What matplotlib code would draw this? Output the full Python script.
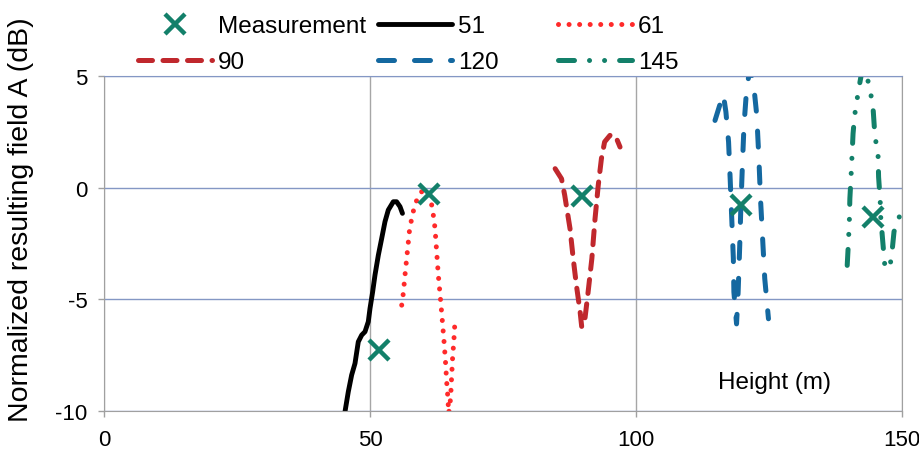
import matplotlib
matplotlib.use("Agg")
import matplotlib.pyplot as plt

plt.rcParams['font.family'] = ['Liberation Sans', 'DejaVu Sans']
plt.rcParams['axes.unicode_minus'] = False

# measured points
meas_h = [51.6, 61.1, 89.9, 119.7, 144.5]
meas_a = [-7.28, -0.27, -0.37, -0.79, -1.31]

# simulated curves, one per antenna height
h51 = [45.3, 45.92, 46.55, 47.18, 47.8, 48.44, 49.06, 49.68, 50.0, 50.5, 50.94,
       51.57, 52.2, 52.82, 53.44, 54.38, 55.0, 55.64, 56.1]
a51 = [-10.03, -9.14, -8.39, -7.87, -6.9, -6.6, -6.45, -6.0, -5.41, -4.66, -3.91,
       -3.02, -2.27, -1.52, -1.0, -0.63, -0.63, -0.85, -1.15]

h61 = [55.96, 56.26, 56.58, 57.02, 57.4, 57.84, 58.27, 58.9, 59.72, 60.66, 61.28,
       61.78, 62.22, 62.53, 62.84, 63.35, 63.66, 63.97, 64.23, 64.41, 64.6, 64.8,
       65.15, 65.33, 65.52, 65.79, 65.98]
a61 = [-5.26, -4.73, -3.91, -2.87, -1.97, -1.37, -0.93, -0.48, -0.18, -0.11, -0.4,
       -1.0, -1.82, -2.87, -3.91, -5.26, -6.15, -7.05, -7.94, -8.69, -9.29, -10.1,
       -9.44, -8.54, -7.64, -6.75, -5.93]

h90 = [84.8, 86.0, 86.6, 87.6, 88.2, 88.8, 89.5, 89.8, 90.4, 91.0, 91.7, 92.3,
       92.9, 93.5, 94.1, 95.1, 96.1, 97.0]
a90 = [0.85, 0.4, -0.34, -1.84, -3.18, -4.37, -5.57, -6.24, -5.87, -4.67, -3.18,
       -1.39, 0.1, 1.3, 2.05, 2.34, 2.34, 1.82]

h120 = [114.85, 116.4, 116.9, 117.4, 117.7, 118.0, 118.3, 118.4, 118.9, 119.2,
        119.5, 119.7, 120.0, 120.3, 120.8, 121.4, 122.0, 122.7, 123.1, 123.4,
        123.8, 124.2, 124.9]
a120 = [3.01, 4.2, 3.39, 2.05, 0.4, -1.39, -3.18, -4.67, -6.1, -4.67, -2.58,
        -0.94, 1.0, 2.79, 4.43, 5.3, 4.88, 3.24, 1.3, -0.49, -2.28, -4.07, -5.87]

h145 = [139.7, 139.9, 140.1, 140.2, 140.4, 140.6, 140.8, 141.1, 141.8, 142.6,
        143.4, 144.0, 144.6, 144.9, 145.5, 145.6, 145.9, 146.0, 146.4, 146.8,
        147.6, 148.0, 148.5, 149.5]
a145 = [-3.48, -2.58, -1.54, -0.49, 0.4, 1.4, 2.42, 3.24, 4.33, 5.4, 4.96, 4.43,
        3.42, 2.34, 1.45, 0.48, -0.57, -1.31, -2.46, -3.58, -3.61, -3.17, -1.97,
        -1.3]

fig = plt.figure(figsize=(9.2, 4.52), dpi=100)
ax = fig.add_axes([104/920, 1-412/452, 798/920, 335/452])

l51, = ax.plot(h51, a51, color='black', lw=3.5, solid_capstyle='round', label='51')
l61, = ax.plot(h61, a61, color='#ff2a2a', lw=3.6, dashes=(0.01, 2.1),
               dash_capstyle='round', label='61')
l90, = ax.plot(h90, a90, color='#c0282d', lw=3.6, dashes=(2.8, 2.1),
               dash_capstyle='round', label='90')
l120, = ax.plot(h120, a120, color='#1468a0', lw=3.6, dashes=(3.2, 4.0),
                dash_capstyle='round', label='120')
l145, = ax.plot(h145, a145, color='#13806a', lw=3.6,
                dashes=(3.2, 3.0, 0.01, 3.0, 0.01, 3.0),
                dash_capstyle='round', label='145')
lm, = ax.plot(meas_h, meas_a, ls='none', marker='x', ms=14, mew=3.2,
              color='#13806a', zorder=5, label='Measurement')

ax.set_xlim(0, 150)
ax.set_ylim(-10, 5)
ax.set_xticks([0, 50, 100, 150])
ax.set_yticks([-10, -5, 0, 5])
ax.tick_params(labelsize=16, colors='#a0a0a0', labelcolor='black',
               length=4, width=1, direction='out')
ax.tick_params(axis='y', pad=8)
ax.tick_params(axis='x', pad=9)
ax.yaxis.grid(True, color='#8497c4', lw=1)
ax.xaxis.grid(True, color='#a6a6a6', lw=1)
ax.set_axisbelow(True)
for s in ['left', 'bottom', 'right']:
    ax.spines[s].set_color('#a0a0a0')
ax.spines['top'].set_color('#8497c4')

ax.text(126.1, -8.7, 'Height (m)', fontsize=17.5, ha='center', va='center')
fig.text(21/920, 30/452, 'Normalized resulting field A (dB)', fontsize=20.5,
         rotation=90, ha='center', va='bottom')

# three legend columns, placed like the original
cols = [([lm, l90], 138), ([l51, l120], 378), ([l61, l145], 558)]
for hs, xpos in cols:
    fig.legend(handles=hs, loc='upper left', bbox_to_anchor=(xpos/920, 1-16/452),
               frameon=False, borderpad=0, borderaxespad=0, handlelength=3.05,
               handletextpad=0.25, labelspacing=0.58, fontsize=17.5, numpoints=1)

fig.savefig('out.png', dpi=100)
